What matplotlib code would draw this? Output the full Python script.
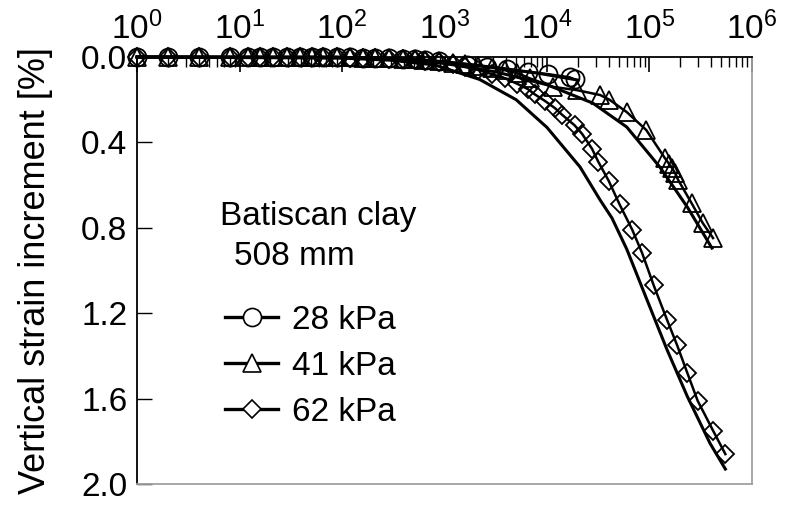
import math

import matplotlib
matplotlib.use("Agg")
import matplotlib.pyplot as plt
from matplotlib.ticker import LogLocator, FuncFormatter, NullFormatter
from matplotlib.lines import Line2D

plt.rcParams.update({"font.family": "Liberation Sans", "mathtext.fontset": "custom",
                     "mathtext.rm": "Liberation Sans", "mathtext.it": "Liberation Sans:italic",
                     "mathtext.bf": "Liberation Sans:bold"})

FS = 24  # text size used for ticks, legend and notes

# ── measured data (time in minutes, vertical strain increment in %) ────────
t_28 = [1, 2, 4, 8, 12, 16, 21, 29, 39, 51, 65, 89, 120, 160, 210, 290, 390, 510,
        650, 890, 1660, 2570, 4070, 6460, 10200, 16600, 18600]
e_28 = [0, 0, 0, 0, 0, 0, 0, 0, 0, 0, 0, 0, 0.002, 0.003, 0.004, 0.006, 0.008, 0.011,
        0.014, 0.02, 0.037, 0.045, 0.056, 0.07, 0.08, 0.095, 0.105]

t_41 = [1, 2, 4, 8, 12, 16, 21, 29, 39, 51, 65, 89, 120, 160, 210, 290, 390, 510,
        650, 890, 1200, 1600, 2100, 2900, 3900, 5100, 6800, 11500, 19500, 33000, 40700,
        60000, 93000, 141000, 155000, 166000, 178000, 190000, 257000, 331000, 417000]
e_41 = [0, 0, 0, 0, 0, 0, 0, 0, 0, 0, 0, 0, 0.002, 0.003, 0.004, 0.006, 0.008, 0.011,
        0.014, 0.02, 0.026, 0.033, 0.04, 0.05, 0.062, 0.075, 0.1, 0.14, 0.155, 0.178,
        0.2, 0.258, 0.342, 0.473, 0.5, 0.52, 0.545, 0.575, 0.684, 0.778, 0.848]

t_62 = [1, 2, 4, 8, 12, 16, 21, 29, 39, 51, 65, 89, 120, 160, 210, 290, 390, 510,
        650, 890, 1200, 1600, 2100, 2900, 3900, 5100, 6500, 7600, 9500, 12000, 14000,
        18600, 22000, 27500, 31600, 40000, 51000, 68000, 85000, 110000, 148000, 186000,
        234000, 295000, 417000, 550000]
e_62 = [0, 0, 0, 0, 0, 0, 0, 0, 0, 0, 0, 0, 0.003, 0.004, 0.005, 0.007, 0.01, 0.014,
        0.018, 0.025, 0.035, 0.045, 0.06, 0.08, 0.10, 0.125, 0.15, 0.175, 0.205, 0.24,
        0.27, 0.32, 0.36, 0.43, 0.49, 0.58, 0.69, 0.81, 0.92, 1.07, 1.23, 1.35, 1.48,
        1.61, 1.75, 1.86]

# ── model predictions ───────────────────────────────────────────────────────
tm_28 = [1, 100, 300, 1000, 2000, 4000, 8000, 20000]
em_28 = [0, 0.002, 0.008, 0.022, 0.038, 0.056, 0.075, 0.108]

tm_41 = [1, 100, 300, 1000, 3200, 10000, 28000, 60000, 126000, 234000, 407000]
em_41 = [0, 0.003, 0.01, 0.03, 0.07, 0.13, 0.216, 0.328, 0.515, 0.703, 0.895]

tm_62 = [1, 100, 300, 800, 2200, 5000, 10000, 21000, 33000, 43000, 60000, 95000,
         148000, 234000, 390000, 550000]
em_62 = [0, 0.005, 0.015, 0.037, 0.105, 0.2, 0.33, 0.515, 0.67, 0.754, 0.9, 1.14,
         1.37, 1.59, 1.81, 1.93]

y_ticks = [0.0, 0.4, 0.8, 1.2, 1.6, 2.0]

series = [("28 kPa", "o", 13, t_28, e_28, tm_28, em_28),
          ("41 kPa", "^", 13, t_41, e_41, tm_41, em_41),
          ("62 kPa", "D", 9.5, t_62, e_62, tm_62, em_62)]

fig = plt.figure(figsize=(7.88, 5.05), dpi=100)
ax = fig.add_axes([0.1739, 0.0416, 0.7804, 0.8455])

handles = []
for label, mk, ms, t, e, tm, em in series:
    ax.plot(tm, em, color="black", lw=2.2, zorder=2, clip_on=False)
    ax.plot(t, e, color="black", lw=1.8, marker=mk, ms=ms, mfc="none", mec="black",
            mew=1.3, zorder=3, clip_on=False)
    handles.append(Line2D([], [], color="black", lw=2.4, marker=mk, ms=ms,
                          mfc="white", mec="black", mew=1.2, label=label))

ax.set_xscale("log")
ax.set_xlim(1, 1e6)
ax.set_ylim(2.0, 0.0)
ax.set_yticks(y_ticks)
ax.set_yticklabels([f"{v:.1f}" for v in y_ticks])

ax.xaxis.set_major_locator(LogLocator(base=10, numticks=10))
ax.xaxis.set_minor_locator(LogLocator(base=10, subs=range(2, 10), numticks=10))
ax.xaxis.set_major_formatter(FuncFormatter(
    lambda v, p: r"$\mathregular{10^{%d}}$" % round(math.log10(v))))
ax.xaxis.set_minor_formatter(NullFormatter())
ax.xaxis.tick_top()
ax.tick_params(axis="x", which="major", direction="in", length=11, width=1.2,
               labelsize=FS, pad=8, top=True, bottom=False)
ax.tick_params(axis="x", which="minor", direction="in", length=7, width=1.0,
               top=True, bottom=False)
ax.tick_params(axis="y", direction="in", length=11, width=1.0, labelsize=FS, pad=7,
               left=True, right=False)

for s in ("left", "top"):
    ax.spines[s].set_color("black")
    ax.spines[s].set_linewidth(1.3)
for s in ("right", "bottom"):
    ax.spines[s].set_color("#a0a0a0")
    ax.spines[s].set_linewidth(1.3)

ax.set_ylabel("Vertical strain increment [%]", fontsize=26)
ax.yaxis.set_label_coords(-0.137, 0.5)

ax.text(0.135, 0.607, "Batiscan clay", transform=ax.transAxes, fontsize=FS,
        ha="left", va="baseline")
ax.text(0.157, 0.513, "508 mm", transform=ax.transAxes, fontsize=FS,
        ha="left", va="baseline")
ax.legend(handles=handles, loc="upper left", bbox_to_anchor=(0.143, 0.42),
          frameon=False, fontsize=FS, handlelength=1.6, handletextpad=0.42,
          labelspacing=0.45, borderpad=0, borderaxespad=0)

fig.savefig("out.png", dpi=100)
